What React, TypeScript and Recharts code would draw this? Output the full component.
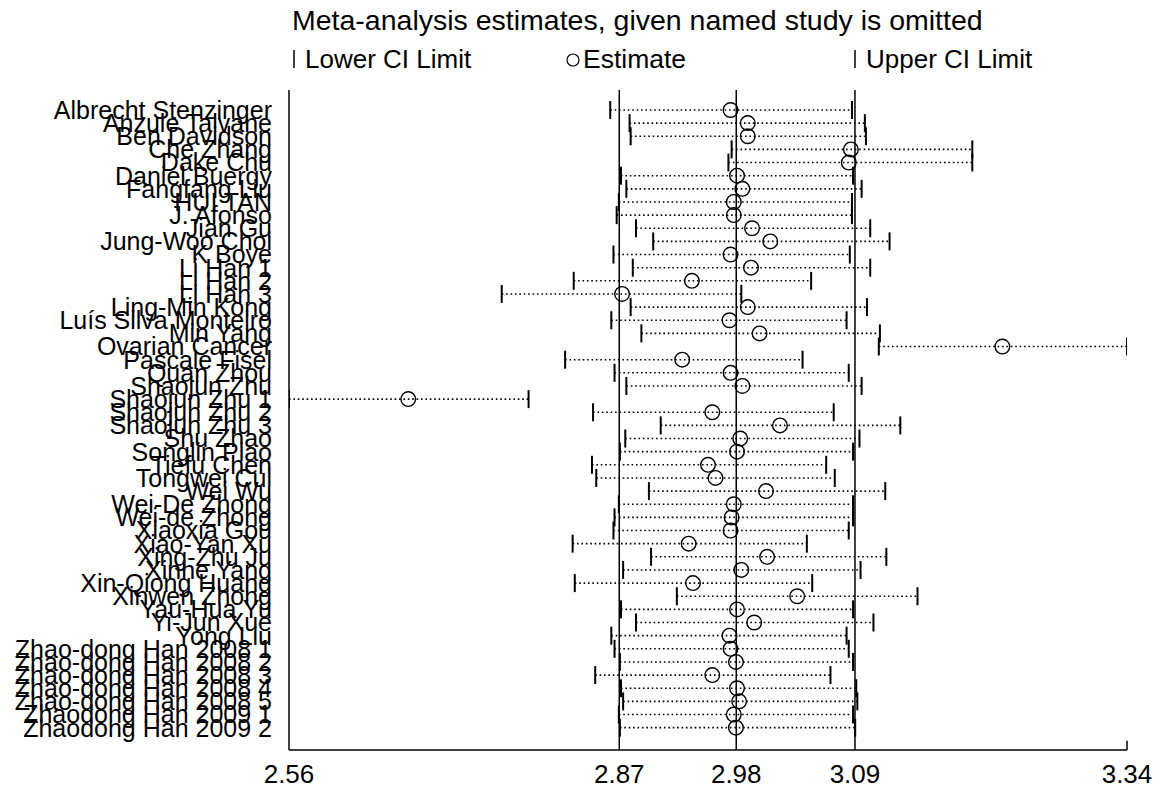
import { ScatterChart, Scatter, XAxis, YAxis, ErrorBar, ReferenceLine } from "recharts";

// study omitted in each row
const studies = [
  "Albrecht Stenzinger", "Anzule Talvane", "Ben Davidson", "Che Zhang", "Dake Chu",
  "Daniel Buergy", "Fangfang Liu", "HUI TAN", "J. Afonso", "Jian Gu",
  "Jung-Woo Choi", "K Boye", "Li Han 1", "Li Han 2", "Li Han 3",
  "Ling-Min Kong", "Luís Silva Monteiro", "Min Yang", "Ovarian Cancer", "Pascale Fisel",
  "Quan Zhou", "Shaojun Zhu", "Shaojun Zhu 1", "Shaojun Zhu 2", "Shaojun Zhu 3",
  "Shu Zhao", "Songlin Piao", "Tiefu Chen", "Tongwei Cui", "Wei Wu",
  "Wei-De Zhong", "Wei-de Zhong", "Xiaoxia Gou", "Xiao-Yan Xu", "Xing-Zhu Ju",
  "Xinhe Yang", "Xin-Qiong Huang", "Xinwen Zhong", "Yau-Hua Yu", "Yi-Jun Xue",
  "Yong Liu", "Zhao-dong Han 2008 1", "Zhao-dong Han 2008 2", "Zhao-dong Han 2008 3",
  "Zhao-dong Han 2008 4", "Zhao-dong Han 2008 5", "Zhaodong Han 2009 1", "Zhaodong Han 2009 2",
];

const lowerCI = [
  2.859, 2.877, 2.878, 2.972, 2.969, 2.869, 2.874, 2.867, 2.865, 2.883,
  2.899, 2.862, 2.880, 2.825, 2.758, 2.878, 2.860, 2.888, 3.109, 2.817,
  2.863, 2.874, 2.560, 2.843, 2.906, 2.873, 2.868, 2.842, 2.846, 2.895,
  2.867, 2.863, 2.862, 2.824, 2.897, 2.871, 2.826, 2.921, 2.869, 2.883,
  2.860, 2.863, 2.868, 2.845, 2.869, 2.871, 2.867, 2.868,
];

const estimates = [
  2.971, 2.987, 2.987, 3.083, 3.081, 2.977, 2.982, 2.974, 2.974, 2.991,
  3.008, 2.971, 2.990, 2.935, 2.870, 2.987, 2.970, 2.998, 3.224, 2.926,
  2.971, 2.982, 2.671, 2.954, 3.017, 2.980, 2.977, 2.950, 2.957, 3.004,
  2.974, 2.972, 2.971, 2.932, 3.005, 2.981, 2.936, 3.033, 2.977, 2.993,
  2.970, 2.971, 2.976, 2.954, 2.977, 2.979, 2.974, 2.976,
];

const upperCI = [
  3.084, 3.096, 3.097, 3.196, 3.196, 3.085, 3.093, 3.084, 3.084, 3.101,
  3.119, 3.082, 3.101, 3.046, 2.981, 3.098, 3.079, 3.110, 3.340, 3.038,
  3.081, 3.093, 2.783, 3.067, 3.129, 3.091, 3.085, 3.060, 3.068, 3.115,
  3.085, 3.085, 3.081, 3.042, 3.116, 3.092, 3.047, 3.145, 3.085, 3.104,
  3.079, 3.081, 3.085, 3.064, 3.088, 3.089, 3.085, 3.087,
];

// pooled estimate and its CI (drawn as full-height lines)
const pooled = [2.8674, 2.9763, 3.0868];
const xTicks = [2.56, 2.8674, 2.9763, 3.0868, 3.34];
const xDomain = [2.56, 3.34];

const FONT = '"Liberation Sans", Arial, Helvetica, sans-serif';

const rowIdx = studies.map((_, i) => i + 1);
const lowerPts = studies.map((_, i) => ({ x: lowerCI[i], y: i + 1 }));
const upperPts = studies.map((_, i) => ({ x: upperCI[i], y: i + 1 }));
const estPts = studies.map((_, i) => ({
  x: estimates[i],
  y: i + 1,
  err: [estimates[i] - lowerCI[i], upperCI[i] - estimates[i]],
}));

const CiTick = (props: any) => {
  const { cx, cy } = props;
  return <line x1={cx} x2={cx} y1={cy - 9} y2={cy + 9} stroke="#000" strokeWidth={2} />;
};

const EstMark = (props: any) => {
  const { cx, cy } = props;
  return <circle cx={cx} cy={cy} r={7.3} fill="none" stroke="#000" strokeWidth={1.4} />;
};

export default function App() {
  return (
    <div style={{ position: "relative", width: 1152, height: 784, fontFamily: FONT }}>
      <ScatterChart width={1152} height={784} margin={{ top: 82, right: 33, bottom: 0, left: 0 }}>
        <XAxis
          type="number"
          dataKey="x"
          domain={xDomain}
          allowDataOverflow
          ticks={xTicks}
          interval={0}
          tickFormatter={(v: number) => v.toFixed(2)}
          height={42}
          tickLine={false}
          tickSize={0}
          tickMargin={15}
          axisLine={{ stroke: "#000", strokeWidth: 1.5 }}
          tick={{ fill: "#000", fontSize: 26, fontFamily: FONT }}
        />
        <YAxis
          type="number"
          dataKey="y"
          domain={[-0.52, 49.7]}
          allowDataOverflow
          reversed
          ticks={rowIdx}
          interval={0}
          tickFormatter={(v: number) => studies[v - 1] ?? ""}
          width={281}
          tickLine={false}
          tickSize={0}
          tickMargin={17}
          axisLine={{ stroke: "#000", strokeWidth: 1.5 }}
          tick={{ fill: "#000", fontSize: 25, fontFamily: FONT }}
        />
        {pooled.map((v) => (
          <ReferenceLine key={v} x={v} stroke="#000" strokeWidth={1.5} />
        ))}
        <ReferenceLine
          segment={[{ x: 3.34, y: 49.7 }, { x: 3.34, y: 49.0 }]}
          stroke="#000"
          strokeWidth={1.5}
        />
        <Scatter data={lowerPts} shape={CiTick} isAnimationActive={false} />
        <Scatter data={upperPts} shape={CiTick} isAnimationActive={false} />
        <Scatter data={estPts} shape={EstMark} isAnimationActive={false}>
          <ErrorBar
            dataKey="err"
            direction="x"
            width={0}
            stroke="#000"
            strokeWidth={1.6}
            strokeDasharray="1.6 2.8"
            isAnimationActive={false}
          />
        </Scatter>
      </ScatterChart>
      <svg
        width={1160}
        height={90}
        style={{ position: "absolute", left: -8, top: -8, pointerEvents: "none" }}
      >
        <text x={292} y={30} fontSize={28.5} fill="#000" fontFamily={FONT}>
          Meta-analysis estimates, given named study is omitted
        </text>
        <line x1={294} x2={294} y1={50} y2={68} stroke="#000" strokeWidth={1.5} />
        <text x={305} y={68} fontSize={26} fill="#000" fontFamily={FONT}>
          Lower CI Limit
        </text>
        <circle cx={573} cy={60} r={6} fill="none" stroke="#000" strokeWidth={1.2} />
        <text x={583} y={68} fontSize={26.5} fill="#000" fontFamily={FONT}>
          Estimate
        </text>
        <line x1={855} x2={855} y1={50} y2={68} stroke="#000" strokeWidth={1.5} />
        <text x={866} y={68} fontSize={26} fill="#000" fontFamily={FONT}>
          Upper CI Limit
        </text>
      </svg>
    </div>
  );
}
